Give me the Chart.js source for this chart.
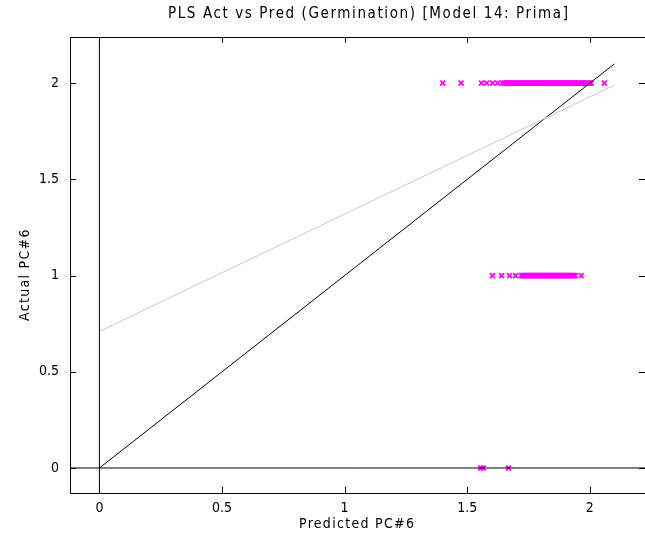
<!DOCTYPE html>
<html>
<head>
<meta charset="utf-8">
<script src="https://cdn.jsdelivr.net/npm/chart.js@4"></script>
<style>
html,body{margin:0;padding:0;background:#fff;overflow:hidden;width:645px;height:544px;}
#c{display:block;}
</style>
</head>
<body>
<canvas id="c" width="645" height="544"></canvas>
<script>
// ---- data ----
const titleText = "PLS Act vs Pred (Germination) [Model 14: Prima]";
const xAxisTitle = "Predicted PC#6";
const yAxisTitle = "Actual PC#6";
const xTickValues = [0, 0.5, 1, 1.5, 2];
const yTickValues = [0, 0.5, 1, 1.5, 2];

// predicted values of samples whose actual value is 2
const predActual2 = [1.40, 1.475, 1.558, 1.579, 1.603, 1.624, 1.644,
  1.652, 1.657, 1.661, 1.666, 1.671, 1.675, 1.680, 1.684, 1.689, 1.693, 1.698, 1.703,
  1.707, 1.712, 1.716, 1.721, 1.726, 1.730, 1.735, 1.739, 1.744, 1.748, 1.753, 1.758,
  1.762, 1.767, 1.771, 1.776, 1.780, 1.785, 1.790, 1.794, 1.799, 1.803, 1.808, 1.812,
  1.817, 1.822, 1.826, 1.831, 1.835, 1.840, 1.845, 1.849, 1.854, 1.858, 1.863, 1.867,
  1.872, 1.877, 1.881, 1.886, 1.890, 1.895, 1.899, 1.904, 1.909, 1.913, 1.918, 1.922,
  1.927, 1.931, 1.936, 1.941, 1.945, 1.950, 1.954, 1.959, 1.964, 1.968, 1.973, 1.977,
  1.982, 1.986, 1.991, 1.996, 2.000, 2.005, 2.059];
// predicted values of samples whose actual value is 1
const predActual1 = [1.603, 1.640, 1.672, 1.697,
  1.720, 1.724, 1.729, 1.733, 1.738, 1.742, 1.747, 1.752, 1.756, 1.761, 1.765, 1.770,
  1.775, 1.779, 1.784, 1.788, 1.793, 1.797, 1.802, 1.807, 1.811, 1.816, 1.820, 1.825,
  1.830, 1.834, 1.839, 1.843, 1.848, 1.852, 1.857, 1.862, 1.866, 1.871, 1.875, 1.880,
  1.884, 1.889, 1.894, 1.898, 1.903, 1.907, 1.912, 1.917, 1.921, 1.926, 1.930, 1.935,
  1.940, 1.965];
// predicted values of samples whose actual value is 0
const predActual0 = [1.555, 1.565, 1.668];

const identityX = [0, 2.1];
const identityY = [0, 2.1];
const fitX = [0, 2.1];
const fitY = [0.71, 1.99];

const xMin = -0.12, xMax = 2.225;
const yMin = -0.13, yMax = 2.24;

// ---- build datasets ----
const toPts = (xs, y) => xs.map(x => ({x: x, y: y}));
const scatterPts = [].concat(toPts(predActual2, 2), toPts(predActual1, 1), toPts(predActual0, 0));
const pair = (xs, ys) => xs.map((x, i) => ({x: x, y: ys[i]}));

const FONT = "'Liberation Sans Narrow', 'DejaVu Sans Condensed', 'Liberation Sans', Arial, sans-serif";

const framePlugin = {
  id: 'frame',
  afterDatasetsDraw(chart) {
    const ctx = chart.ctx, a = chart.chartArea;
    const xs = chart.scales.x, ys = chart.scales.y;
    const tl = 6;
    ctx.save();
    ctx.strokeStyle = '#000';
    ctx.lineWidth = 1;
    ctx.beginPath();
    ctx.rect(Math.round(a.left) + 0.5, Math.round(a.top) + 0.5, Math.round(a.right - a.left), Math.round(a.bottom - a.top));
    ctx.stroke();
    ctx.beginPath();
    xTickValues.forEach(v => {
      const px = Math.round(xs.getPixelForValue(v)) + 0.5;
      ctx.moveTo(px, a.bottom); ctx.lineTo(px, a.bottom - tl);
      ctx.moveTo(px, a.top); ctx.lineTo(px, a.top + tl);
    });
    yTickValues.forEach(v => {
      const py = Math.round(ys.getPixelForValue(v)) + 0.5;
      ctx.moveTo(a.left, py); ctx.lineTo(a.left + tl, py);
      ctx.moveTo(a.right, py); ctx.lineTo(a.right - tl, py);
    });
    ctx.stroke();
    // titles
    ctx.fillStyle = '#000';
    ctx.textAlign = 'left';
    ctx.textBaseline = 'middle';
    ctx.letterSpacing = '1.6px';
    ctx.font = '15px ' + FONT;
    ctx.fillText(titleText, 168, 14);
    ctx.letterSpacing = '1.3px';
    ctx.font = '14px ' + FONT;
    ctx.fillText(xAxisTitle, 299, 524);
    ctx.translate(25, 321);
    ctx.rotate(-Math.PI / 2);
    ctx.fillText(yAxisTitle, 0, 0);
    ctx.restore();
  }
};

new Chart(document.getElementById('c'), {
  type: 'scatter',
  data: {
    datasets: [
      {
        type: 'line', data: pair([xMin, xMax], [0, 0]),
        borderColor: '#000', borderWidth: 1, pointRadius: 0, fill: false
      },
      {
        type: 'line', data: pair([0, 0], [yMin, yMax]),
        borderColor: '#000', borderWidth: 1, pointRadius: 0, fill: false
      },
      {
        type: 'line', data: pair(fitX, fitY),
        borderColor: '#c8c8c8', borderWidth: 1, pointRadius: 0, fill: false
      },
      {
        type: 'line', data: pair(identityX, identityY),
        borderColor: '#000', borderWidth: 1, pointRadius: 0, fill: false
      },
      {
        data: scatterPts,
        pointStyle: 'crossRot', pointRadius: 3.5, borderWidth: 1.8,
        borderColor: '#ff00ff', backgroundColor: '#ff00ff'
      }
    ]
  },
  plugins: [framePlugin],
  options: {
    responsive: false,
    animation: false,
    layout: {autoPadding: false, padding: {top: 37, right: -2, left: 0, bottom: 0}},
    plugins: {legend: {display: false}, tooltip: {enabled: false}, title: {display: false}},
    scales: {
      x: {
        type: 'linear', min: xMin, max: xMax,
        grid: {display: false, drawTicks: false},
        border: {display: false},
        afterBuildTicks: s => { s.ticks = xTickValues.map(v => ({value: v})); },
        afterFit: s => { s.height = 51; },
        ticks: {color: '#000', font: {family: FONT, size: 14}, padding: 7, maxRotation: 0, autoSkip: false,
          callback: v => String(v)},
        title: {display: false}
      },
      y: {
        type: 'linear', min: yMin, max: yMax,
        grid: {display: false, drawTicks: false},
        border: {display: false},
        afterBuildTicks: s => { s.ticks = yTickValues.map(v => ({value: v})); },
        afterFit: s => { s.width = 70; },
        ticks: {color: '#000', font: {family: FONT, size: 14}, padding: 11, autoSkip: false,
          callback: v => String(v)},
        title: {display: false}
      }
    }
  }
});
</script>
</body>
</html>
